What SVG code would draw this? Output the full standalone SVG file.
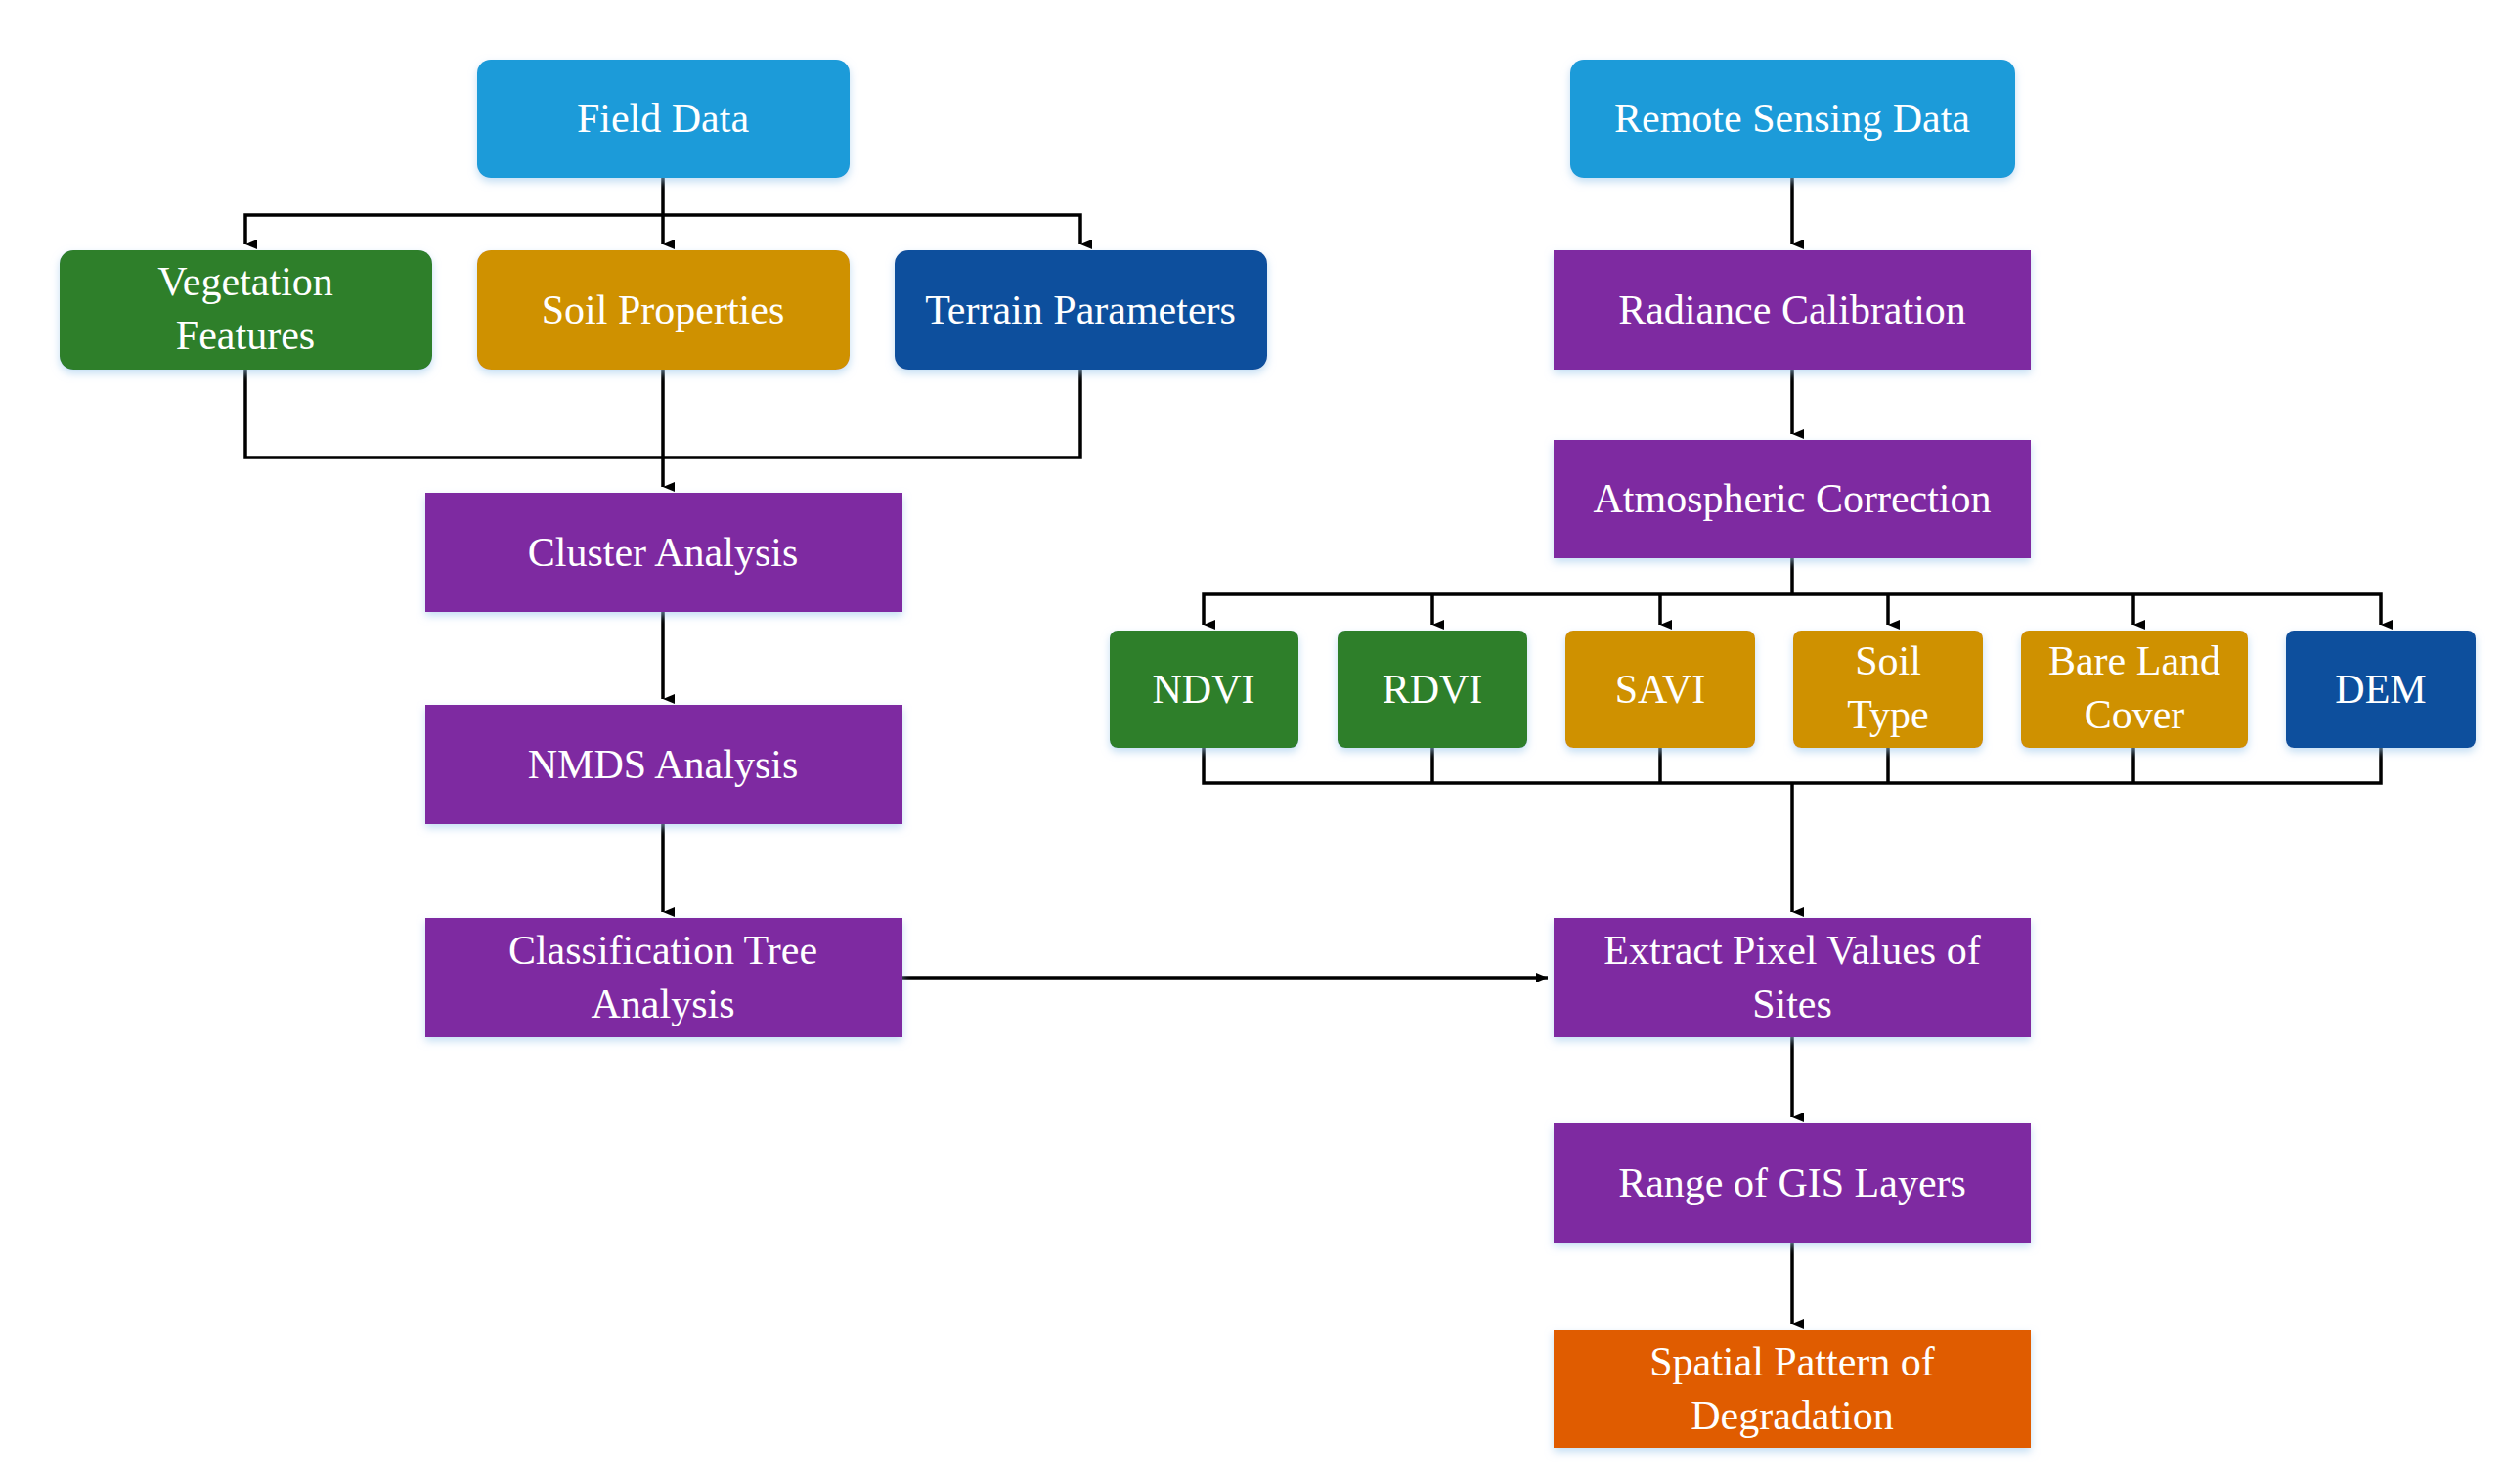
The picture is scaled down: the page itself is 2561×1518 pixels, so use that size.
<svg xmlns="http://www.w3.org/2000/svg" width="2561" height="1518" viewBox="0 0 2561 1518">
<style>
text{font-family:"Liberation Serif","Times New Roman",serif;font-size:42px;fill:#fff;text-anchor:middle}
.c{fill:none;stroke:#000;stroke-width:3.5}
.b1{fill:#1a9bd9}.gr{fill:#2e7f2c}.go{fill:#cf9100}.db{fill:#0f509d}.pu{fill:#7e2ba1}.or{fill:#e05c00}
</style>
<defs>
<marker id="a" markerWidth="10" markerHeight="12" refX="5" refY="12" orient="auto-start-reverse" markerUnits="userSpaceOnUse" viewBox="0 0 10 12"><path d="M0,0 L10,0 L5,12z" fill="#000"/></marker>
<marker id="r" markerWidth="12" markerHeight="10" refX="12" refY="5" markerUnits="userSpaceOnUse" viewBox="0 0 12 10"><path d="M0,0 L12,5 L0,10z" fill="#000"/></marker>
<filter id="s" x="-10%" y="-10%" width="120%" height="130%"><feDropShadow dx="0" dy="4" stdDeviation="4" flood-color="#9cc8ec" flood-opacity="0.6"/></filter>
</defs>
<g id="connectors">
<path class="c" d="M678,182 V250" marker-end="url(#a)"/>
<path class="c" d="M251,250 V220 H1105 V250" marker-start="url(#a)" marker-end="url(#a)"/>
<path class="c" d="M251,378 V468 H1105 V378 M678,378 V498" marker-end="url(#a)"/>
<path class="c" d="M678,626 V715" marker-end="url(#a)"/>
<path class="c" d="M678,843 V933" marker-end="url(#a)"/>
<path class="c" d="M923,1000 H1583" marker-end="url(#r)"/>
<path class="c" d="M1833,182 V250" marker-end="url(#a)"/>
<path class="c" d="M1833,378 V444" marker-end="url(#a)"/>
<path class="c" d="M1833,571 V608"/>
<path class="c" d="M1231,639 V608 H2435 V639" marker-start="url(#a)" marker-end="url(#a)"/>
<path class="c" d="M1465,608 V639" marker-end="url(#a)"/>
<path class="c" d="M1698,608 V639" marker-end="url(#a)"/>
<path class="c" d="M1931,608 V639" marker-end="url(#a)"/>
<path class="c" d="M2182,608 V639" marker-end="url(#a)"/>
<path class="c" d="M1231,765 V801 H2435 V765 M1465,765 V801 M1698,765 V801 M1931,765 V801 M2182,765 V801"/>
<path class="c" d="M1833,801 V933" marker-end="url(#a)"/>
<path class="c" d="M1833,1061 V1143" marker-end="url(#a)"/>
<path class="c" d="M1833,1271 V1354" marker-end="url(#a)"/>
</g>
<g id="field"><rect class="b1" filter="url(#s)" x="488" y="61" width="381" height="121" rx="14"/><text x="678" y="135">Field Data</text></g>
<g id="veg"><rect class="gr" filter="url(#s)" x="61" y="256" width="381" height="122" rx="14"/><text x="251" y="302">Vegetation</text><text x="251" y="357">Features</text></g>
<g id="soilprop"><rect class="go" filter="url(#s)" x="488" y="256" width="381" height="122" rx="14"/><text x="678" y="331">Soil Properties</text></g>
<g id="terrain"><rect class="db" filter="url(#s)" x="915" y="256" width="381" height="122" rx="14"/><text x="1105" y="331">Terrain Parameters</text></g>
<g id="cluster"><rect class="pu" filter="url(#s)" x="435" y="504" width="488" height="122"/><text x="678" y="579">Cluster Analysis</text></g>
<g id="nmds"><rect class="pu" filter="url(#s)" x="435" y="721" width="488" height="122"/><text x="678" y="796">NMDS Analysis</text></g>
<g id="ctree"><rect class="pu" filter="url(#s)" x="435" y="939" width="488" height="122"/><text x="678" y="986">Classification Tree</text><text x="678" y="1041">Analysis</text></g>
<g id="remote"><rect class="b1" filter="url(#s)" x="1606" y="61" width="455" height="121" rx="14"/><text x="1833" y="135">Remote Sensing Data</text></g>
<g id="radiance"><rect class="pu" filter="url(#s)" x="1589" y="256" width="488" height="122"/><text x="1833" y="331">Radiance Calibration</text></g>
<g id="atmos"><rect class="pu" filter="url(#s)" x="1589" y="450" width="488" height="121"/><text x="1833" y="524">Atmospheric Correction</text></g>
<g id="ndvi"><rect class="gr" filter="url(#s)" x="1135" y="645" width="193" height="120" rx="8"/><text x="1231" y="719">NDVI</text></g>
<g id="rdvi"><rect class="gr" filter="url(#s)" x="1368" y="645" width="194" height="120" rx="8"/><text x="1465" y="719">RDVI</text></g>
<g id="savi"><rect class="go" filter="url(#s)" x="1601" y="645" width="194" height="120" rx="8"/><text x="1698" y="719">SAVI</text></g>
<g id="soiltype"><rect class="go" filter="url(#s)" x="1834" y="645" width="194" height="120" rx="8"/><text x="1931" y="690">Soil</text><text x="1931" y="745">Type</text></g>
<g id="bare"><rect class="go" filter="url(#s)" x="2067" y="645" width="232" height="120" rx="8"/><text x="2183" y="690">Bare Land</text><text x="2183" y="745">Cover</text></g>
<g id="dem"><rect class="db" filter="url(#s)" x="2338" y="645" width="194" height="120" rx="8"/><text x="2435" y="719">DEM</text></g>
<g id="extract"><rect class="pu" filter="url(#s)" x="1589" y="939" width="488" height="122"/><text x="1833" y="986">Extract Pixel Values of</text><text x="1833" y="1041">Sites</text></g>
<g id="range"><rect class="pu" filter="url(#s)" x="1589" y="1149" width="488" height="122"/><text x="1833" y="1224">Range of GIS Layers</text></g>
<g id="spatial"><rect class="or" filter="url(#s)" x="1589" y="1360" width="488" height="121"/><text x="1833" y="1407">Spatial Pattern of</text><text x="1833" y="1462">Degradation</text></g>
</svg>
